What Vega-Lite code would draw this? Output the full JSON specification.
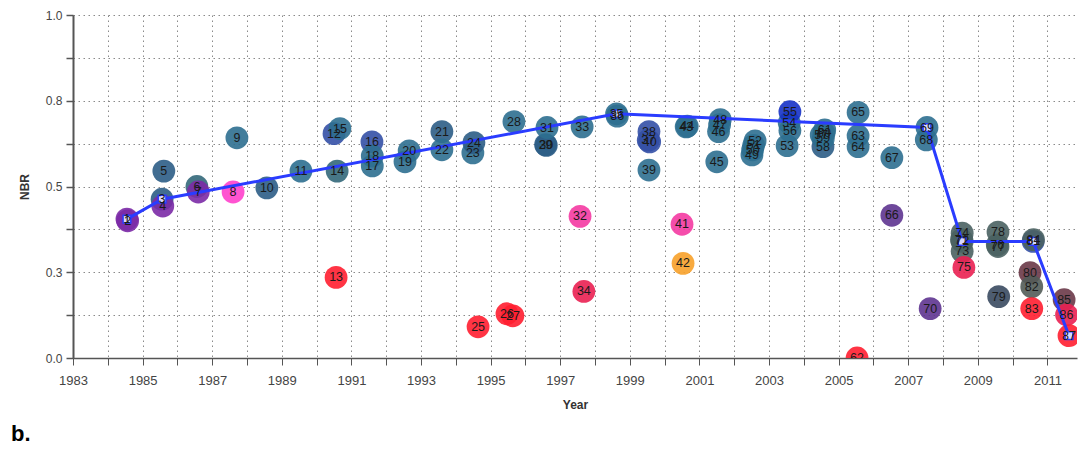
{
  "$schema": "https://vega.github.io/schema/vega-lite/v6.json",
  "width": 1004,
  "height": 343,
  "autosize": {"type": "none"},
  "padding": {"left": 73, "top": 15, "right": 2, "bottom": 94},
  "background": "white",
  "config": {
    "view": {"stroke": null},
    "font": "Liberation Sans"
  },
  "title": {
    "text": "b.",
    "orient": "bottom",
    "anchor": "start",
    "frame": "group",
    "dx": -62,
    "offset": 14,
    "fontSize": 22,
    "fontWeight": "bold",
    "font": "Liberation Sans",
    "color": "#000000"
  },
  "datasets": {
    "obs": [
      {"id": 1, "year": 1984.55, "nbr": 0.405, "tone": "purple"},
      {"id": 2, "year": 1984.57, "nbr": 0.400, "tone": "purple"},
      {"id": 3, "year": 1985.56, "nbr": 0.463, "tone": "steel"},
      {"id": 4, "year": 1985.58, "nbr": 0.443, "tone": "purple"},
      {"id": 5, "year": 1985.61, "nbr": 0.545, "tone": "steel"},
      {"id": 6, "year": 1986.56, "nbr": 0.500, "tone": "slateteal"},
      {"id": 7, "year": 1986.60, "nbr": 0.484, "tone": "purple"},
      {"id": 8, "year": 1987.60, "nbr": 0.484, "tone": "magenta"},
      {"id": 9, "year": 1987.71, "nbr": 0.642, "tone": "teal"},
      {"id": 10, "year": 1988.57, "nbr": 0.496, "tone": "steel"},
      {"id": 11, "year": 1989.55, "nbr": 0.545, "tone": "teal"},
      {"id": 12, "year": 1990.50, "nbr": 0.654, "tone": "indigo"},
      {"id": 13, "year": 1990.56, "nbr": 0.235, "tone": "red"},
      {"id": 14, "year": 1990.59, "nbr": 0.545, "tone": "slateteal"},
      {"id": 15, "year": 1990.67, "nbr": 0.669, "tone": "teal"},
      {"id": 16, "year": 1991.59, "nbr": 0.630, "tone": "indigo"},
      {"id": 17, "year": 1991.60, "nbr": 0.560, "tone": "teal"},
      {"id": 18, "year": 1991.60, "nbr": 0.589, "tone": "teal"},
      {"id": 19, "year": 1992.54, "nbr": 0.572, "tone": "teal"},
      {"id": 20, "year": 1992.66, "nbr": 0.604, "tone": "teal"},
      {"id": 21, "year": 1993.60, "nbr": 0.660, "tone": "steel"},
      {"id": 22, "year": 1993.60, "nbr": 0.607, "tone": "teal"},
      {"id": 23, "year": 1994.49, "nbr": 0.598, "tone": "teal"},
      {"id": 24, "year": 1994.52, "nbr": 0.628, "tone": "steel"},
      {"id": 25, "year": 1994.64, "nbr": 0.091, "tone": "red"},
      {"id": 26, "year": 1995.47, "nbr": 0.129, "tone": "red"},
      {"id": 27, "year": 1995.64, "nbr": 0.123, "tone": "red"},
      {"id": 28, "year": 1995.67, "nbr": 0.689, "tone": "teal"},
      {"id": 29, "year": 1996.58, "nbr": 0.622, "tone": "steel"},
      {"id": 30, "year": 1996.60, "nbr": 0.620, "tone": "steel"},
      {"id": 31, "year": 1996.62, "nbr": 0.672, "tone": "teal"},
      {"id": 32, "year": 1997.57, "nbr": 0.413, "tone": "pink"},
      {"id": 33, "year": 1997.63, "nbr": 0.674, "tone": "teal"},
      {"id": 34, "year": 1997.68, "nbr": 0.194, "tone": "crimson"},
      {"id": 35, "year": 1998.62, "nbr": 0.712, "tone": "teal"},
      {"id": 36, "year": 1998.64, "nbr": 0.705, "tone": "teal"},
      {"id": 37, "year": 1999.53, "nbr": 0.635, "tone": "indigo"},
      {"id": 38, "year": 1999.55, "nbr": 0.660, "tone": "indigo"},
      {"id": 39, "year": 1999.55, "nbr": 0.548, "tone": "teal"},
      {"id": 40, "year": 1999.57, "nbr": 0.630, "tone": "indigo"},
      {"id": 41, "year": 2000.50, "nbr": 0.390, "tone": "pink"},
      {"id": 42, "year": 2000.53, "nbr": 0.276, "tone": "orange"},
      {"id": 43, "year": 2000.62, "nbr": 0.674, "tone": "teal"},
      {"id": 44, "year": 2000.65, "nbr": 0.676, "tone": "teal"},
      {"id": 45, "year": 2001.50, "nbr": 0.572, "tone": "teal"},
      {"id": 46, "year": 2001.55, "nbr": 0.660, "tone": "teal"},
      {"id": 47, "year": 2001.58, "nbr": 0.680, "tone": "teal"},
      {"id": 48, "year": 2001.60, "nbr": 0.695, "tone": "teal"},
      {"id": 49, "year": 2002.51, "nbr": 0.592, "tone": "teal"},
      {"id": 50, "year": 2002.53, "nbr": 0.607, "tone": "teal"},
      {"id": 51, "year": 2002.56, "nbr": 0.620, "tone": "teal"},
      {"id": 52, "year": 2002.60, "nbr": 0.633, "tone": "teal"},
      {"id": 53, "year": 2003.52, "nbr": 0.619, "tone": "teal"},
      {"id": 54, "year": 2003.58, "nbr": 0.686, "tone": "teal"},
      {"id": 55, "year": 2003.60, "nbr": 0.718, "tone": "royal"},
      {"id": 56, "year": 2003.60, "nbr": 0.663, "tone": "teal"},
      {"id": 57, "year": 2004.50, "nbr": 0.650, "tone": "teal"},
      {"id": 58, "year": 2004.55, "nbr": 0.616, "tone": "steel"},
      {"id": 59, "year": 2004.56, "nbr": 0.640, "tone": "teal"},
      {"id": 60, "year": 2004.58, "nbr": 0.655, "tone": "teal"},
      {"id": 61, "year": 2004.60, "nbr": 0.665, "tone": "teal"},
      {"id": 62, "year": 2005.53, "nbr": 0.000, "tone": "red"},
      {"id": 63, "year": 2005.56, "nbr": 0.648, "tone": "teal"},
      {"id": 64, "year": 2005.56, "nbr": 0.616, "tone": "teal"},
      {"id": 65, "year": 2005.56, "nbr": 0.716, "tone": "teal"},
      {"id": 66, "year": 2006.53, "nbr": 0.416, "tone": "violet"},
      {"id": 67, "year": 2006.53, "nbr": 0.584, "tone": "teal"},
      {"id": 68, "year": 2007.52, "nbr": 0.636, "tone": "teal"},
      {"id": 69, "year": 2007.54, "nbr": 0.672, "tone": "teal"},
      {"id": 70, "year": 2007.63, "nbr": 0.144, "tone": "violet"},
      {"id": 71, "year": 2008.53, "nbr": 0.345, "tone": "slate"},
      {"id": 72, "year": 2008.55, "nbr": 0.340, "tone": "slate"},
      {"id": 73, "year": 2008.55, "nbr": 0.311, "tone": "slate"},
      {"id": 74, "year": 2008.55, "nbr": 0.364, "tone": "slate"},
      {"id": 75, "year": 2008.60, "nbr": 0.264, "tone": "crimson"},
      {"id": 76, "year": 2009.56, "nbr": 0.330, "tone": "slate"},
      {"id": 77, "year": 2009.58, "nbr": 0.325, "tone": "slate"},
      {"id": 78, "year": 2009.58, "nbr": 0.367, "tone": "slate"},
      {"id": 79, "year": 2009.60, "nbr": 0.179, "tone": "navyslate"},
      {"id": 80, "year": 2010.50, "nbr": 0.249, "tone": "maroon"},
      {"id": 84, "year": 2010.60, "nbr": 0.345, "tone": "slate"},
      {"id": 81, "year": 2010.59, "nbr": 0.340, "tone": "indigo"},
      {"id": 82, "year": 2010.55, "nbr": 0.208, "tone": "olive"},
      {"id": 83, "year": 2010.55, "nbr": 0.144, "tone": "red"},
      {"id": 85, "year": 2011.48, "nbr": 0.170, "tone": "maroon"},
      {"id": 86, "year": 2011.55, "nbr": 0.126, "tone": "crimson"},
      {"id": 87, "year": 2011.62, "nbr": 0.065, "tone": "red"}
    ],
    "fit": [
      {"year": 1984.55, "nbr": 0.405},
      {"year": 1985.56, "nbr": 0.463},
      {"year": 1998.62, "nbr": 0.712},
      {"year": 2007.54, "nbr": 0.672},
      {"year": 2008.55, "nbr": 0.340},
      {"year": 2010.59, "nbr": 0.340},
      {"year": 2011.62, "nbr": 0.065}
    ]
  },
  "encoding": {
    "x": {
      "field": "year",
      "type": "quantitative",
      "title": "Year",
      "scale": {"domain": [1983, 2011.85], "nice": false, "zero": false},
      "axis": {
        "values": [1983,1984,1985,1986,1987,1988,1989,1990,1991,1992,1993,1994,1995,1996,1997,1998,1999,2000,2001,2002,2003,2004,2005,2006,2007,2008,2009,2010,2011],
        "labelExpr": "datum.value % 2 == 1 ? format(datum.value, 'd') : ''",
        "grid": true,
        "gridDash": [1.5, 3.5],
        "gridColor": "#8a8a8a",
        "gridWidth": 1,
        "domainColor": "#555555",
        "domainWidth": 1.5,
        "tickColor": "#555555",
        "tickSize": 7,
        "tickWidth": 1,
        "labelFontSize": 13,
        "labelColor": "#444444",
        "labelPadding": 9,
        "labelFlush": false,
        "titleFontSize": 12,
        "titleFontWeight": "bold",
        "titleColor": "#333333",
        "titlePadding": 12
      }
    },
    "y": {
      "field": "nbr",
      "type": "quantitative",
      "title": "NBR",
      "scale": {"domain": [0, 1], "nice": false},
      "axis": {
        "values": [0, 0.125, 0.25, 0.375, 0.5, 0.625, 0.75, 0.875, 1],
        "labelExpr": "(datum.value * 4) % 1 == 0 ? format(datum.value, '.1f') : ''",
        "grid": true,
        "gridDash": [1.5, 3.5],
        "gridColor": "#8a8a8a",
        "gridWidth": 1,
        "domainColor": "#555555",
        "domainWidth": 2,
        "tickColor": "#555555",
        "tickSize": 7,
        "tickWidth": 1.5,
        "labelFontSize": 12,
        "labelColor": "#444444",
        "labelPadding": 4,
        "labelFlush": false,
        "titleFontSize": 12,
        "titleFontWeight": "bold",
        "titleColor": "#333333",
        "titlePadding": 14
      }
    }
  },
  "layer": [
    {
      "mark": {"type": "rule", "color": "#666666", "strokeWidth": 1.5},
      "encoding": {"y": {"datum": 1}, "x": {"datum": 1983}, "x2": {"datum": 2011.85}}
    },
    {
      "data": {"name": "obs"},
      "mark": {"type": "circle", "size": 520, "opacity": 0.9, "clip": true},
      "encoding": {
        "order": {"field": "id", "type": "quantitative"},
        "color": {
          "field": "tone",
          "type": "nominal",
          "legend": null,
          "scale": {
            "domain": ["teal", "steel", "slateteal", "indigo", "royal", "purple", "violet", "magenta", "pink", "red", "crimson", "orange", "slate", "navyslate", "maroon", "olive"],
            "range": ["#2d6f90", "#2c5d86", "#33687a", "#3450a6", "#1632c6", "#7b2aa6", "#5e3490", "#ff40cc", "#f43aa2", "#ff1e30", "#ea2052", "#f7a12a", "#4a6262", "#3a4a60", "#6a3848", "#525c58"]
          }
        }
      }
    },
    {
      "data": {"name": "fit"},
      "mark": {"type": "line", "color": "#2a3cff", "strokeWidth": 3},
      "encoding": {}
    },
    {
      "data": {"name": "fit"},
      "mark": {"type": "square", "size": 60, "fill": "#d8d8ff", "stroke": "#2a3cff", "strokeWidth": 1.5, "opacity": 1},
      "encoding": {}
    },
    {
      "data": {"name": "obs"},
      "mark": {"type": "text", "fontSize": 12.5, "font": "Liberation Sans", "color": "#1a1a1a", "clip": true},
      "encoding": {"text": {"field": "id", "type": "nominal"}}
    }
  ]
}
